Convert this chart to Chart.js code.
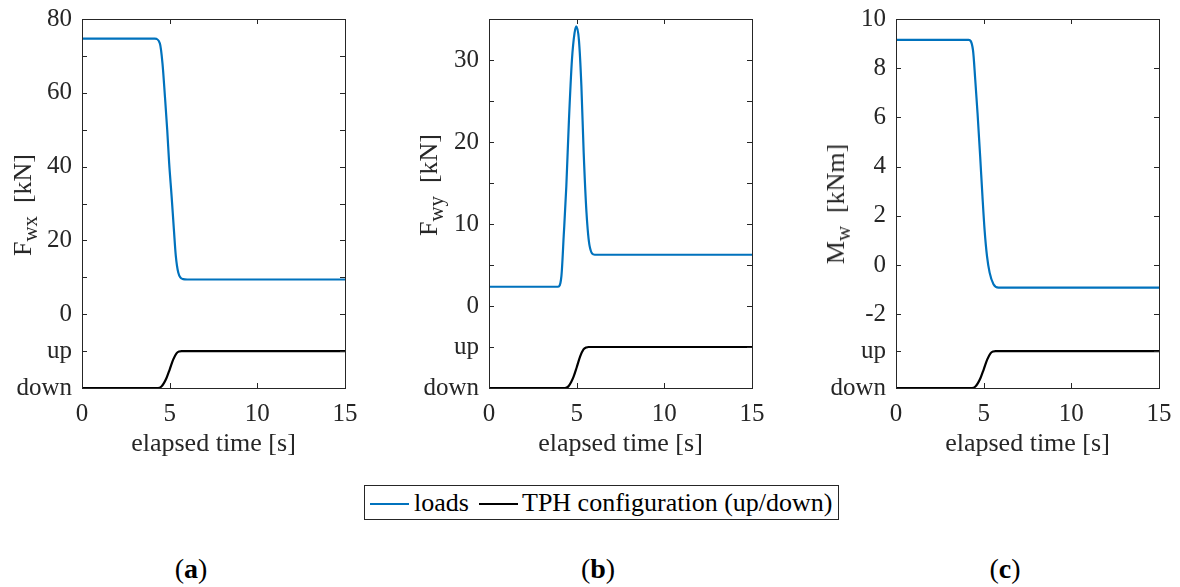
<!DOCTYPE html>
<html>
<head>
<meta charset="utf-8">
<script src="https://cdn.jsdelivr.net/npm/chart.js@4.4.1/dist/chart.umd.min.js"></script>
<style>
  body { margin: 0; background: #fff; }
  #page { position: relative; width: 1180px; height: 587px; overflow: hidden; font-family: "Liberation Serif", "Times New Roman", serif; color: #000; }
  canvas { position: absolute; top: 0; }
  .ytitle { position: absolute; white-space: nowrap; font-size: 26px; line-height: 1; color: #262626;
            transform: translate(-50%, -50%) rotate(-90deg); }
  .ytitle sub { font-size: 0.8em; vertical-align: -0.3em; line-height: 0; }
  #legend { position: absolute; left: 364px; top: 485px; width: 473px; height: 33px; border: 1px solid #262626;
            font-size: 26px; line-height: 33px; white-space: nowrap; }
  #legend span.sw { position: absolute; top: 17px; height: 2px; width: 39px; }
  #legend span.tx { position: absolute; top: 0; }
  .sublabel { position: absolute; top: 553px; font-size: 28px; transform: translateX(-50%); }
</style>
</head>
<body>
<div id="page">
  <canvas id="chartA" width="360" height="460" style="left:0px"></canvas>
  <canvas id="chartB" width="370" height="460" style="left:400px"></canvas>
  <canvas id="chartC" width="380" height="460" style="left:800px"></canvas>

  <div class="ytitle" style="left:23px; top:205px">F<sub>wx</sub>&nbsp; [kN]</div>
  <div class="ytitle" style="left:429px; top:185px">F<sub>wy</sub>&nbsp; [kN]</div>
  <div class="ytitle" style="left:836px; top:204px">M<sub>w</sub>&nbsp; [kNm]</div>

  <div id="legend">
    <span class="sw" style="left:5px; background:#0072BD"></span>
    <span class="tx" style="left:49px">loads</span>
    <span class="sw" style="left:114px; background:#000"></span>
    <span class="tx" style="left:157px">TPH configuration (up/down)</span>
  </div>

  <div class="sublabel" style="left:191px">(<b>a</b>)</div>
  <div class="sublabel" style="left:598px">(<b>b</b>)</div>
  <div class="sublabel" style="left:1005px">(<b>c</b>)</div>
</div>

<script>
// ---- data ----
// panel (a): F_wx [kN]
const fwxTime = [0, 4.15, 4.44, 4.59, 4.73, 4.86, 4.97, 5.11, 5.24, 5.35, 5.49, 5.77, 6.0, 15];
const fwxLoad = [74.7, 74.7, 73.4, 68, 59, 50, 41, 32, 23, 15.8, 11.3, 9.5, 9.4, 9.4];

// panel (b): F_wy [kN]
const fwyTime = [0, 3.94, 4.13, 4.26, 4.41, 4.56, 4.73, 4.88, 4.98, 5.13, 5.27, 5.40, 5.56, 5.74, 6.03, 15];
const fwyLoad = [2.35, 2.35, 3.65, 8.5, 14.6, 22.7, 30, 33.3, 34.1, 32.4, 26.8, 18.7, 11.4, 7.3, 6.25, 6.25];

// panel (c): M_w [kNm]
const mwTime = [0, 4.14, 4.39, 4.52, 4.65, 4.80, 4.93, 5.05, 5.19, 5.34, 5.56, 5.85, 15];
const mwLoad = [9.15, 9.15, 8.74, 7.53, 6.18, 4.42, 2.8, 1.45, 0.36, -0.31, -0.78, -0.92, -0.92];

// TPH configuration, 0 = down, 1 = up (same in all panels)
const tphTime = [0, 4.33, 4.53, 4.68, 4.82, 5.0, 5.2, 5.39, 5.55, 5.68, 15];
const tphState = [0, 0, 0.04, 0.14, 0.27, 0.5, 0.77, 0.94, 0.99, 1, 1];

// tick values and labels
const xTicks = [0, 5, 10, 15];
const aTicks = [-20, -10, 0, 10, 20, 30, 40, 50, 60, 70, 80];
const aLabels = ["down", "up", "0", "", "20", "", "40", "", "60", "", "80"];
const bTicks = [-10, -5, 0, 5, 10, 15, 20, 25, 30, 35];
const bLabels = ["down", "up", "0", "", "10", "", "20", "", "30", ""];
const cTicks = [-5, -3.5, -2, 0, 2, 4, 6, 8, 10];
const cLabels = ["down", "up", "-2", "0", "2", "4", "6", "8", "10"];

const axisColor = "#262626";
const fontFamily = "'Liberation Serif', 'Times New Roman', serif";

// box round the plot and inward ticks, like the matlab axes
const frameTicks = {
    id: "frameTicks",
    afterDatasetsDraw(chart) {
        const { ctx, chartArea: a, scales: { x, y } } = chart;
        const len = 5;
        ctx.save();
        ctx.strokeStyle = axisColor;
        ctx.lineWidth = 1;
        ctx.beginPath();
        x.ticks.forEach((t) => {
            const px = Math.round(x.getPixelForValue(t.value)) + 0.5;
            ctx.moveTo(px, a.bottom); ctx.lineTo(px, a.bottom - len);
            ctx.moveTo(px, a.top); ctx.lineTo(px, a.top + len);
        });
        y.ticks.forEach((t) => {
            const py = Math.round(y.getPixelForValue(t.value)) + 0.5;
            ctx.moveTo(a.left, py); ctx.lineTo(a.left + len, py);
            ctx.moveTo(a.right, py); ctx.lineTo(a.right - len, py);
        });
        ctx.stroke();
        ctx.strokeRect(Math.round(a.left) + 0.5, Math.round(a.top) + 0.5,
            Math.round(a.right - a.left), Math.round(a.bottom - a.top));
        ctx.restore();
    },
};

const toPoints = (xs, ys) => xs.map((t, i) => ({ x: t, y: ys[i] }));

const makePanel = (id, loadTime, loadValues, yMin, yMax, ticks, labels, upVal, downVal, yWidth, padRight) => {
    const tphValues = tphState.map((s) => downVal + s * (upVal - downVal));
    return new Chart(document.getElementById(id), {
        type: "line",
        data: {
            datasets: [
                {
                    label: "loads",
                    data: toPoints(loadTime, loadValues),
                    borderColor: "#0072BD",
                    borderWidth: 2.2,
                    pointRadius: 0,
                    cubicInterpolationMode: "monotone",
                    fill: false,
                },
                {
                    label: "TPH configuration (up/down)",
                    data: toPoints(tphTime, tphValues),
                    borderColor: "#000000",
                    borderWidth: 2.2,
                    pointRadius: 0,
                    cubicInterpolationMode: "monotone",
                    fill: false,
                },
            ],
        },
        options: {
            responsive: false,
            animation: false,
            devicePixelRatio: 1,
            layout: { padding: { top: 19, right: padRight, left: 0, bottom: 0 } },
            plugins: { legend: { display: false }, tooltip: { enabled: false } },
            scales: {
                x: {
                    type: "linear",
                    min: 0,
                    max: 15,
                    grid: { display: false, drawTicks: false },
                    border: { display: false },
                    afterBuildTicks: (scale) => { scale.ticks = xTicks.map((v) => ({ value: v })); },
                    afterFit: (scale) => { scale.height = 72; scale.paddingLeft = 0; scale.paddingRight = 0; },
                    ticks: { color: axisColor, padding: 11, maxRotation: 0, font: { family: fontFamily, size: 25 } },
                    title: {
                        display: true,
                        text: "elapsed time [s]",
                        color: axisColor,
                        padding: { top: 0, bottom: 0 },
                        font: { family: fontFamily, size: 26 },
                    },
                },
                y: {
                    type: "linear",
                    min: yMin,
                    max: yMax,
                    grid: { display: false, drawTicks: false },
                    border: { display: false },
                    afterBuildTicks: (scale) => { scale.ticks = ticks.map((v) => ({ value: v })); },
                    afterFit: (scale) => { scale.width = yWidth; scale.paddingTop = 0; scale.paddingBottom = 0; },
                    ticks: {
                        color: axisColor,
                        padding: 10,
                        font: { family: fontFamily, size: 25 },
                        callback: (value) => {
                            const i = ticks.indexOf(value);
                            return i >= 0 ? labels[i] : "";
                        },
                    },
                },
            },
        },
        plugins: [frameTicks],
    });
};

makePanel("chartA", fwxTime, fwxLoad, -20, 80, aTicks, aLabels, -10, -20, 82, 15);
makePanel("chartB", fwyTime, fwyLoad, -10, 35, bTicks, bLabels, -5, -10, 89, 18);
makePanel("chartC", mwTime, mwLoad, -5, 10, cTicks, cLabels, -3.5, -5, 96, 21);
</script>
</body>
</html>
